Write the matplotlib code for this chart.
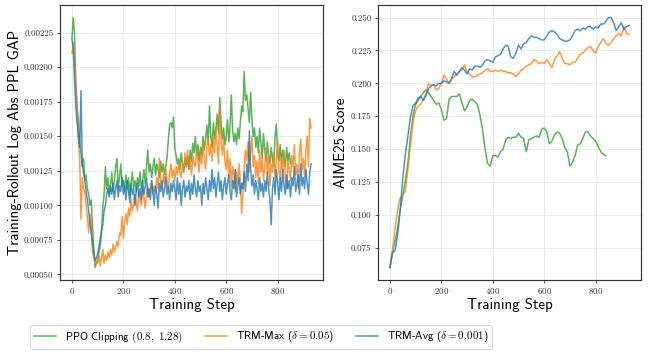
import numpy as np
import matplotlib
matplotlib.use('Agg')
import matplotlib.pyplot as plt
from matplotlib.ticker import MultipleLocator, FormatStrFormatter

# left panel: PPL gap, one value every 5 steps, in units of 1e-5
gap_steps_ppo = np.arange(0, 851, 5)
gap_steps_trm = np.arange(0, 931, 5)

gap_ppo = [
    221, 236, 224, 190, 172, 160, 146, 138, 128, 134,
    118, 122, 112, 108, 100, 104, 85, 68, 55, 58,
    60, 66, 70, 80, 99, 108, 128, 112, 120, 108,
    115, 124, 110, 118, 128, 134, 112, 120, 130, 114,
    118, 110, 122, 112, 120, 108, 116, 124, 112, 118,
    110, 120, 114, 124, 112, 118, 126, 116, 128, 140,
    124, 130, 120, 128, 134, 122, 130, 126, 120, 132,
    124, 130, 122, 128, 135, 148, 158, 160, 156, 164,
    142, 136, 130, 134, 126, 138, 130, 124, 134, 128,
    136, 126, 140, 132, 145, 138, 150, 136, 144, 132,
    142, 136, 150, 140, 148, 158, 144, 172, 150, 142,
    160, 148, 156, 166, 152, 178, 160, 148, 156, 144,
    150, 162, 146, 158, 180, 154, 146, 152, 144, 156,
    148, 160, 172, 168, 197, 176, 180, 170, 160, 182,
    162, 150, 156, 142, 150, 138, 156, 146, 134, 152,
    140, 132, 146, 136, 130, 142, 134, 128, 150, 159,
    138, 132, 144, 130, 140, 134, 128, 142, 132, 138,
    130,
]

gap_max = [
    210, 218, 204, 186, 170, 148, 134, 90, 120, 112,
    110, 100, 92, 80, 94, 86, 66, 62, 58, 60,
    58, 64, 56, 62, 68, 58, 64, 60, 66, 62,
    68, 64, 72, 66, 70, 74, 70, 80, 78, 92,
    76, 88, 94, 86, 98, 92, 104, 96, 100, 108,
    102, 96, 110, 104, 100, 112, 106, 98, 108, 114,
    106, 112, 118, 108, 114, 110, 120, 112, 134, 118,
    112, 122, 116, 126, 118, 112, 124, 130, 120, 126,
    118, 128, 122, 132, 124, 120, 130, 126, 138, 128,
    140, 126, 132, 122, 136, 130, 128, 140, 132, 124,
    138, 130, 146, 134, 126, 142, 150, 136, 144, 132,
    148, 138, 156, 142, 130, 172, 146, 136, 150, 132,
    126, 140, 120, 134, 114, 128, 122, 110, 124, 116,
    130, 118, 94, 108, 126, 140, 132, 146, 124, 138,
    150, 128, 136, 120, 132, 116, 140, 124, 134, 118,
    128, 142, 122, 136, 114, 130, 124, 138, 120, 132,
    146, 126, 118, 134, 124, 140, 120, 112, 132, 126,
    118, 136, 128, 144, 122, 130, 112, 138, 148, 126,
    134, 120, 140, 150, 128, 163, 156,
]

gap_avg = [
    220, 214, 190, 172, 160, 150, 142, 183, 130, 124,
    118, 110, 104, 96, 88, 80, 72, 66, 60, 62,
    65, 70, 76, 82, 86, 96, 100, 108, 112, 106,
    114, 108, 116, 104, 112, 118, 106, 114, 110, 120,
    108, 114, 104, 118, 110, 102, 116, 108, 112, 100,
    110, 116, 106, 112, 104, 118, 108, 114, 120, 106,
    112, 104, 118, 110, 100, 114, 108, 98, 116, 110,
    118, 106, 112, 120, 108, 114, 104, 116, 110, 118,
    112, 104, 120, 108, 116, 100, 112, 118, 106, 114,
    110, 118, 104, 116, 108, 122, 112, 106, 118, 110,
    114, 100, 116, 108, 120, 112, 104, 118, 110, 126,
    112, 120, 106, 116, 124, 110, 118, 104, 114, 120,
    108, 116, 122, 110, 104, 118, 112, 126, 106, 114,
    120, 108, 116, 112, 124, 110, 130, 118, 154, 126,
    114, 122, 108, 118, 112, 104, 120, 110, 116, 106,
    118, 110, 124, 112, 104, 86, 112, 120, 108, 126,
    116, 104, 120, 110, 126, 114, 108, 122, 112, 118,
    106, 120, 114, 128, 110, 116, 122, 108, 130, 114,
    120, 112, 126, 116, 108, 124, 130,
]

# right panel: AIME25 score every 10 steps
aime_steps_ppo = np.arange(0, 841, 10)
aime_steps_trm = np.arange(0, 931, 10)

aime_ppo = [
    0.060, 0.072, 0.080, 0.090, 0.104, 0.115, 0.126, 0.140, 0.160, 0.176,
    0.184, 0.187, 0.190, 0.193, 0.195, 0.193, 0.190, 0.187, 0.184, 0.185,
    0.180, 0.172, 0.173, 0.188, 0.190, 0.190, 0.190, 0.192, 0.185, 0.179,
    0.182, 0.187, 0.188, 0.186, 0.184, 0.176, 0.165, 0.150, 0.139, 0.137,
    0.145, 0.145, 0.144, 0.148, 0.150, 0.157, 0.159, 0.158, 0.159, 0.159,
    0.162, 0.159, 0.158, 0.148, 0.157, 0.158, 0.159, 0.160, 0.159, 0.165,
    0.166, 0.163, 0.154, 0.156, 0.161, 0.163, 0.162, 0.158, 0.151, 0.148,
    0.137, 0.140, 0.145, 0.153, 0.154, 0.158, 0.163, 0.163, 0.160, 0.158,
    0.156, 0.152, 0.148, 0.146, 0.145,
]

aime_max = [
    0.060, 0.073, 0.090, 0.104, 0.113, 0.115, 0.118, 0.135, 0.153, 0.171,
    0.179, 0.183, 0.184, 0.188, 0.192, 0.200, 0.198, 0.199, 0.195, 0.196,
    0.200, 0.206, 0.203, 0.200, 0.203, 0.205, 0.207, 0.209, 0.210, 0.214,
    0.209, 0.207, 0.205, 0.205, 0.206, 0.207, 0.208, 0.210, 0.211, 0.209,
    0.209, 0.210, 0.209, 0.210, 0.209, 0.209, 0.208, 0.208, 0.207, 0.205,
    0.207, 0.210, 0.211, 0.213, 0.214, 0.215, 0.218, 0.217, 0.215, 0.216,
    0.215, 0.218, 0.215, 0.212, 0.218, 0.221, 0.224, 0.219, 0.215, 0.215,
    0.214, 0.216, 0.216, 0.219, 0.222, 0.223, 0.225, 0.227, 0.228, 0.225,
    0.223, 0.228, 0.231, 0.234, 0.230, 0.229, 0.231, 0.234, 0.236, 0.238,
    0.236, 0.243, 0.238, 0.237,
]

aime_avg = [
    0.060, 0.071, 0.073, 0.085, 0.104, 0.128, 0.146, 0.160, 0.175, 0.183,
    0.185, 0.189, 0.190, 0.187, 0.191, 0.196, 0.198, 0.199, 0.198, 0.200,
    0.200, 0.202, 0.201, 0.200, 0.204, 0.209, 0.206, 0.209, 0.212, 0.210,
    0.207, 0.211, 0.210, 0.213, 0.213, 0.212, 0.214, 0.217, 0.218, 0.217,
    0.216, 0.220, 0.221, 0.222, 0.226, 0.229, 0.228, 0.220, 0.219, 0.223,
    0.229, 0.226, 0.230, 0.231, 0.234, 0.236, 0.235, 0.235, 0.234, 0.233,
    0.233, 0.236, 0.239, 0.240, 0.239, 0.237, 0.234, 0.233, 0.232, 0.232,
    0.233, 0.236, 0.240, 0.241, 0.240, 0.242, 0.241, 0.243, 0.243, 0.241,
    0.243, 0.242, 0.245, 0.245, 0.247, 0.250, 0.250, 0.246, 0.240, 0.243,
    0.246, 0.241, 0.243, 0.244,
]

labels = [r'PPO Clipping $(0.8,\ 1.28)$',
          r'TRM-Max ($\delta = 0.05$)',
          r'TRM-Avg ($\delta = 0.001$)']
colors = ['#2ca02c', '#ff7f0e', '#1f77b4']

plt.rcParams['mathtext.fontset'] = 'cm'
plt.rcParams['axes.formatter.use_mathtext'] = True

fig = plt.figure(figsize=(9, 356 / 72), dpi=72)
ax1 = fig.add_axes([60 / 648, 1 - 280 / 356, 263 / 648, 275 / 356])
ax2 = fig.add_axes([378 / 648, 1 - 280 / 356, 263 / 648, 275 / 356])

scale = 1e-5
ax1.plot(gap_steps_ppo, np.array(gap_ppo) * scale, color=colors[0], lw=1.5, alpha=0.8, label=labels[0])
ax1.plot(gap_steps_trm, np.array(gap_max) * scale, color=colors[1], lw=1.5, alpha=0.8, label=labels[1])
ax1.plot(gap_steps_trm, np.array(gap_avg) * scale, color=colors[2], lw=1.5, alpha=0.8, label=labels[2])

ax2.plot(aime_steps_ppo, aime_ppo, color=colors[0], lw=1.5, alpha=0.8)
ax2.plot(aime_steps_trm, aime_max, color=colors[1], lw=1.5, alpha=0.8)
ax2.plot(aime_steps_trm, aime_avg, color=colors[2], lw=1.5, alpha=0.8)

ax1.yaxis.set_major_locator(MultipleLocator(0.00025))
ax1.yaxis.set_major_formatter(FormatStrFormatter('%.5f'))
ax2.yaxis.set_major_locator(MultipleLocator(0.025))
ax2.yaxis.set_major_formatter(FormatStrFormatter('%.3f'))

for ax in (ax1, ax2):
    ax.xaxis.set_major_locator(MultipleLocator(200))
    ax.grid(True, color='#e6e6e6', lw=0.8)
    ax.set_axisbelow(True)
    for s in ax.spines.values():
        s.set_color('#333333')
        s.set_linewidth(1.2)
    ax.tick_params(colors='#333333', labelsize=9, length=3, width=0.8)
    for t in ax.get_xticklabels() + ax.get_yticklabels():
        t.set_fontfamily('cmr10')
    ax.set_xlabel('Training Step', fontfamily='cmss10', fontsize=15, labelpad=2)

ax1.set_ylabel('Training-Rollout Log Abs PPL GAP', fontfamily='cmss10', fontsize=15, labelpad=2)
ax2.set_ylabel('AIME25 Score', fontfamily='cmss10', fontsize=15, labelpad=3)

handles, lbls = ax1.get_legend_handles_labels()
leg = fig.legend(handles, lbls, loc='center', bbox_to_anchor=(261 / 648, 1 - 337 / 356),
                 ncol=3, frameon=True, fancybox=True, columnspacing=2.0,
                 prop={'family': 'cmss10', 'size': 11})
leg.get_frame().set_edgecolor('#cccccc')
for h in leg.get_lines():
    h.set_alpha(0.8)

fig.savefig('out.png', dpi=72)
